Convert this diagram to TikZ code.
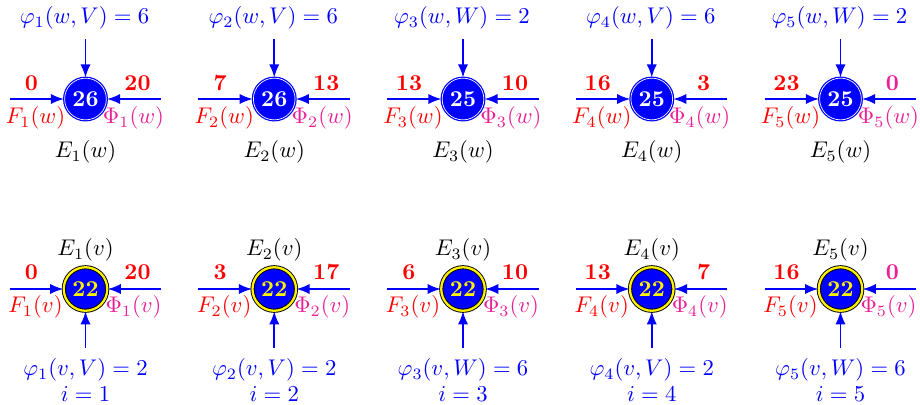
\documentclass[tikz,border=0pt]{standalone}
\usetikzlibrary{arrows.meta}
\definecolor{pinkm}{RGB}{235,30,150}
\begin{document}
\begin{tikzpicture}[x=0.441pt,y=-0.441pt,
  arr/.style={blue, line width=0.75pt, -{Latex[length=5.8pt,width=4.5pt]}},
  topnode/.style={circle, fill=blue, draw=blue, double=white, double distance=0.3pt, line width=0.55pt, minimum size=18.4pt, inner sep=0pt, text=white, font=\bfseries},
  botnode/.style={circle, fill=blue, draw=black, double=yellow, double distance=1pt, line width=0.4pt, minimum size=19.2pt, inner sep=0pt, text=yellow, font=\bfseries},
  numlab/.style={text=red, font=\bfseries},
  flab/.style={text=red},
  philab/.style={text=pinkm},
  toplab/.style={text=blue},
  elab/.style={text=black}]
\useasboundingbox (0,0) rectangle (920,404);
% top row
\foreach \i/\x/\set/\phv/\l/\r/\rc/\n in {
  1/85.5/V/6/0/20/red/26,
  2/274.25/V/6/7/13/red/26,
  3/463/W/2/13/10/red/25,
  4/651.75/V/6/16/3/red/25,
  5/840.5/W/2/23/0/pinkm/25}{
  \node[topnode] (t\i) at (\x,99) {\n};
  \coordinate (tl\i) at (\x-76,99);
  \coordinate (tr\i) at (\x+75.5,99);
  \coordinate (tu\i) at (\x,39);
  \draw[arr] (tl\i) -- (t\i);
  \draw[arr] (tr\i) -- (t\i);
  \draw[arr] (tu\i) -- (t\i);
  \node[toplab] (tphi\i) at (\x-1,18) {$\varphi_{\i}(w,\set)=\phv$};
  \node[numlab] (tln\i) at (\x-54,83) {\l};
  \node[numlab, text=\rc] (trn\i) at (\x+52,83) {\r};
  \node[flab] (tF\i) at (\x-50,118) {$F_{\i}(w)$};
  \node[philab] (tP\i) at (\x+48,118) {$\Phi_{\i}(w)$};
  \node[elab] (tE\i) at (\x,152) {$E_{\i}(w)$};
}
% bottom row
\foreach \i/\x/\set/\phv/\l/\r/\rc in {
  1/85.5/V/2/0/20/red,
  2/274.25/V/2/3/17/red,
  3/463/W/6/6/10/red,
  4/651.75/V/2/13/7/red,
  5/840.5/W/6/16/0/pinkm}{
  \node[botnode] (b\i) at (\x,289) {22};
  \coordinate (bl\i) at (\x-76,289);
  \coordinate (br\i) at (\x+75.5,289);
  \coordinate (bd\i) at (\x,348);
  \draw[arr] (bl\i) -- (b\i);
  \draw[arr] (br\i) -- (b\i);
  \draw[arr] (bd\i) -- (b\i);
  \node[elab] (bE\i) at (\x,250) {$E_{\i}(v)$};
  \node[numlab] (bln\i) at (\x-54,272) {\l};
  \node[numlab, text=\rc] (brn\i) at (\x+52,272) {\r};
  \node[flab] (bF\i) at (\x-50,307) {$F_{\i}(v)$};
  \node[philab] (bP\i) at (\x+48,307) {$\Phi_{\i}(v)$};
  \node[toplab] (bphi\i) at (\x,370) {$\varphi_{\i}(v,\set)=\phv$};
  \node[toplab] (bi\i) at (\x,394) {$i=\i$};
}
\end{tikzpicture}
\end{document}
